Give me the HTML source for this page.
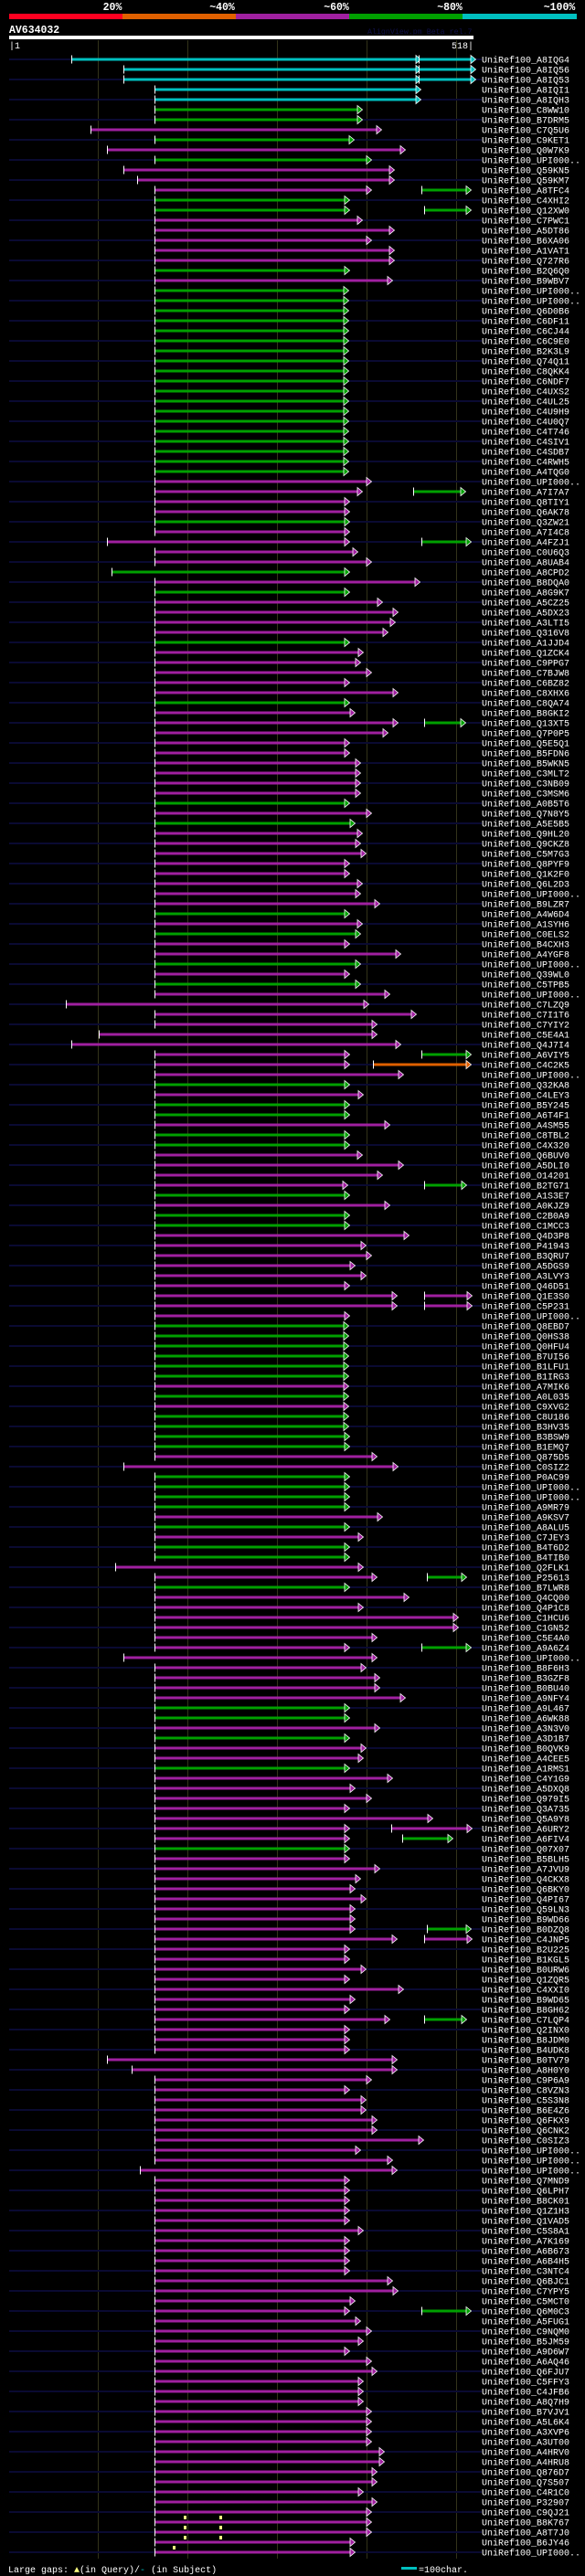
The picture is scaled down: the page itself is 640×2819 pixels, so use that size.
<!DOCTYPE html>
<html><head><meta charset="utf-8">
<style>
html,body{margin:0;padding:0;background:#000;}
svg{display:block;}
text{font-family:"Liberation Mono",monospace;}
</style></head>
<body>
<svg id="chart" xmlns="http://www.w3.org/2000/svg" width="640" height="2819" viewBox="0 0 640 2819">
<rect x="0" y="0" width="640" height="2819" fill="#000"/>
<g>
<rect x="10" y="15" width="124" height="6" fill="#ff0020"/>
<rect x="134" y="15" width="124" height="6" fill="#e06000"/>
<rect x="258" y="15" width="124" height="6" fill="#a020a0"/>
<rect x="382" y="15" width="124" height="6" fill="#00a000"/>
<rect x="506" y="15" width="125" height="6" fill="#00c0c0"/>
<g font-size="11.5" font-weight="bold" fill="#fff" text-anchor="middle">
<text x="123" y="11">20%</text>
<text x="243" y="11">~40%</text>
<text x="368" y="11">~60%</text>
<text x="492" y="11">~80%</text>
<text x="612" y="11">~100%</text>
</g></g>
<text x="10" y="36" font-size="11.5" font-weight="bold" fill="#fff">AV634032</text>
<text x="402" y="37" font-size="8.3" fill="#10104a">AlignView.pm Beta rel.7</text>
<rect x="10" y="39" width="508" height="4" fill="#fff"/>
<text x="10" y="53" font-size="10" fill="#fff">|1</text>
<text x="518" y="53" font-size="10" fill="#fff" text-anchor="end">518|</text>
<g id="grid"></g>
<g id="rows"></g>
<g>
<text x="9" y="2815" font-size="10" fill="#fff">Large gaps: <tspan fill="#ffff80">▲</tspan>(in Query)/<tspan fill="#00c0c0">-</tspan> (in Subject)</text>
<rect x="439" y="2809" width="17" height="3" fill="#00c0c0"/>
<text x="458" y="2815" font-size="10" fill="#fff">=100char.</text>
</g>
</svg>
<script>
const names = ["A8IQG4","A8IQ56","A8IQ53","A8IQI1","A8IQH3","C8WW10","B7DRM5","C7Q5U6","C9KET1","Q0W7K9",
"UPI000..","Q59KN5","Q59KM7","A8TFC4","C4XHI2","Q12XW0","C7PWC1","A5DT86","B6XA06","A1VAT1",
"Q727R6","B2Q6Q0","B9WBV7","UPI000..","UPI000..","Q6D0B6","C6DF11","C6CJ44","C6C9E0","B2K3L9",
"Q74Q11","C8QKK4","C6NDF7","C4UXS2","C4UL25","C4U9H9","C4U0Q7","C4T746","C4SIV1","C4SDB7",
"C4RWH5","A4TQG0","UPI000..","A7I7A7","Q8TIY1","Q6AK78","Q3ZW21","A7I4C8","A4FZJ1","C0U6Q3",
"A8UAB4","A8CPD2","B8DQA0","A8G9K7","A5CZ25","A5DX23","A3LTI5","Q316V8","A1JJD4","Q1ZCK4",
"C9PPG7","C7BJW8","C6BZ82","C8XHX6","C8QA74","B8GKI2","Q13XT5","Q7P0P5","Q5E5Q1","B5FDN6",
"B5WKN5","C3MLT2","C3NB09","C3MSM6","A0B5T6","Q7N8Y5","A5E5B5","Q9HL20","Q9CKZ8","C5M7G3",
"Q8PYF9","Q1K2F0","Q6L2D3","UPI000..","B9LZR7","A4W6D4","A1SYH6","C0ELS2","B4CXH3","A4YGF8",
"UPI000..","Q39WL0","C5TPB5","UPI000..","C7LZQ9","C7I1T6","C7YIY2","C5E4A1","Q4J7I4","A6VIY5",
"C4C2K5","UPI000..","Q32KA8","C4LEY3","B5Y245","A6T4F1","A4SM55","C8TBL2","C4X320","Q6BUV0",
"A5DLI0","O14201","B2TG71","A1S3E7","A0KJZ9","C2B0A9","C1MCC3","Q4D3P8","P41943","B3QRU7",
"A5DGS9","A3LVY3","Q46D51","Q1E3S0","C5P231","UPI000..","Q8EBD7","Q0HS38","Q0HFU4","B7UI56",
"B1LFU1","B1IRG3","A7MIK6","A0L035","C9XVG2","C8U186","B3HV35","B3BSW9","B1EMQ7","Q875D5",
"C0SIZ2","P0AC99","UPI000..","UPI000..","A9MR79","A9KSV7","A8ALU5","C7JEY3","B4T6D2","B4TIB0",
"Q2FLK1","P25613","B7LWR8","Q4CQ00","Q4P1C8","C1HCU6","C1GN52","C5E4A0","A9A6Z4","UPI000..",
"B8F6H3","B3GZF8","B0BU40","A9NFY4","A9L467","A6WK88","A3N3V0","A3D1B7","B0QVK9","A4CEE5",
"A1RMS1","C4Y1G9","A5DXQ8","Q979I5","Q3A735","Q5A9Y8","A6URY2","A6FIV4","Q07X07","B5BLH5",
"A7JVU9","Q4CKX8","Q6BKY0","Q4PI67","Q59LN3","B9WD66","B0DZQ8","C4JNP5","B2U225","B1KGL5",
"B0URW6","Q1ZQR5","C4XXI0","B9WD65","B8GH62","C7LQP4","Q2INX0","B8JDM0","B4UDK8","B0TV79",
"A8H0Y0","C9P6A9","C8VZN3","C5S3N8","B6E4Z6","Q6FKX9","Q6CNK2","C0SIZ3","UPI000..","UPI000..",
"UPI000..","Q7MND9","Q6LPH7","B8CK01","Q1Z1H3","Q1VAD5","C5S8A1","A7K169","A6B673","A6B4H5",
"C3NTC4","Q6BJC1","C7YPY5","C5MCT0","Q6M0C3","A5FUG1","C9NQM0","B5JM59","A9D6W7","A6AQ46",
"Q6FJU7","C5FFY3","C4JFB6","A8Q7H9","B7VJV1","A5L6K4","A3XVP6","A3UT00","A4HRV0","A4HRU8",
"Q876D7","Q7S507","C4R1C0","P32907","C9QJ21","B8K767","A8T7J0","B6JY46","UPI000.."];
const colorKeys = ("cccccggmgm"+"gmmmggmmmm"+"mgmggggggg"+"gggggggggg"+"ggmmmmgmmm"+"mgmgmmmmgm"+"mmmmgmmmmm"+"mmmmgmgmmm"+"mmmmmgmgmm"+"gmgmmmmmmm"+"mmgmggmggm"+"mmmgmggmmm"+"mmmmmmgggg"+"ggmgmggggm"+"mggggmgmgg"+"mmgmmmmmmm"+"mmmmggmgmm"+"gmmmmmmmgm"+"mmmmmmmmmmmmmmmmmmmmmmmmmmmmmmmmmmmmmmmmmmmmmmmmmmmmmmmmmmmmmmmmmmmmm").split("");
const alignStarts = [69,126,126,160,160,160,160,90,160,108,
160,126,141,160,160,160,160,160,160,160,
160,160,160,160,160,160,160,160,160,160,
160,160,160,160,160,160,160,160,160,160,
160,160,160,160,160,160,160,160,108,160,
160,113,160,160,160,160,160,160,160,160,
160,160,160,160,160,160,160,160,160,160,
160,160,160,160,160,160,160,160,160,160,
160,160,160,160,160,160,160,160,160,160,
160,160,160,160,63,160,160,99,69,160,
160,160,160,160,160,160,160,160,160,160,
160,160,160,160,160,160,160,160,160,160,
160,160,160,160,160,160,160,160,160,160,
160,160,160,160,160,160,160,160,160,160,
126,160,160,160,160,160,160,160,160,160,
117,160,160,160,160,160,160,160,160,126,
160,160,160,160,160,160,160,160,160,160,
160,160,160,160,160,160,160,160,160,160,
160,160,160,160,160,160,160,160,160,160,
160,160,160,160,160,160,160,160,160,108,
135,160,160,160,160,160,160,160,160,160,
144,160,160,160,160,160,160,160,160,160,
160,160,160,160,160,160,160,160,160,160,
160,160,160,160,160,160,160,160,160,160,
160,160,160,160,160,160,160,160,160];
const alignEnds = [446,446,446,446,446,382,382,403,373,429,
392,417,417,392,368,368,382,417,392,417,
417,368,415,367,367,367,367,367,367,367,
367,367,367,367,367,367,367,367,367,367,
367,367,392,382,368,368,368,368,368,377,
392,368,445,368,404,421,418,410,368,383,
380,392,368,421,368,374,421,410,368,368,
380,380,380,380,368,392,374,382,380,386,
368,368,382,380,401,368,382,380,368,424,
380,368,380,412,389,441,398,398,424,368,
368,427,368,383,368,368,412,368,368,382,
427,404,366,368,412,368,368,433,386,392,
374,386,368,420,420,368,367,367,367,367,
367,367,367,367,367,367,367,368,368,398,
421,368,368,368,368,404,368,383,368,368,
383,398,368,433,383,487,487,398,368,398,
386,401,401,429,368,368,401,368,386,383,
368,415,374,392,368,459,368,368,368,368,
401,380,374,386,374,374,374,420,368,368,
386,368,427,374,368,412,368,368,368,420,
420,392,368,386,386,398,398,449,380,415,
420,368,368,368,368,368,383,368,368,368,
368,415,421,374,368,380,392,383,368,392,
398,383,383,383,392,392,392,392,406,406,
398,398,383,398,392,392,392,374,374];
const extraRows = [0,1,2,13,15,43,48,66,99,100,112,123,124,151,158,176,177,186,187,195,224];
const extraStarts = [449,449,449,452,455,443,452,455,452,399,455,455,455,458,452,419,431,458,455,455,452];
const extraEnds = [506,506,506,501,501,495,501,495,501,501,496,502,502,496,501,502,481,501,502,496,501];
const extraColors = ["c","c","c","g","g","g","g","g","g","o","g","m","m","g","g","m","g","g","m","g","g"];
const gapRows = [244,244,245,245,246,246,247];
const gapPositions = [193,232,193,232,193,232,181];
const gridTicks = [98,196,294,392,490];

const PAL = {c:"#00c0c0", g:"#00a000", m:"#a020a0", o:"#e06000"};
const NS = "http://www.w3.org/2000/svg";
const xScale = v => 9 + v;
const yScale = i => 65 + 11 * i;
function mk(tag, attrs, parent){
  const e = document.createElementNS(NS, tag);
  for (const k in attrs) e.setAttribute(k, attrs[k]);
  parent.appendChild(e);
  return e;
}
const grid = document.getElementById("grid");
gridTicks.forEach(t => {
  const l = mk("rect", {x: xScale(t), y: 44, width: 1, height: 2756, fill: "#33331a"}, grid);
  
  
});
const rowsG = document.getElementById("rows");
function arrowSeg(g, s, e, y, col, tickStart){
  const x1 = xScale(s), x2 = xScale(e);
  const bar = mk("rect", {x: x1, y: y - 1.5, width: Math.max(0, x2 - x1), height: 3, fill: col}, g);
  
  
  if (tickStart) {
    const t = mk("rect", {x: x1, y: y - 4.5, width: 1, height: 9, fill: "#fff"}, g);
    
    
  }
  const a = mk("polygon", {points: `${x2},${y-4.5} ${x2+5.5},${y} ${x2},${y+4.5}`, fill: col, stroke: "#fff", "stroke-width": 0.8}, g);
  
  
}
names.forEach((n, i) => {
  const y = yScale(i);
  const g = mk("g", {}, rowsG);
  
  
  if (i % 2 === 0) {
    const st = mk("rect", {x: 10, y: y - 1, width: 517, height: 2, fill: "#0a0a32"}, g);
    
    
  }
  arrowSeg(g, alignStarts[i], alignEnds[i], y, PAL[colorKeys[i]], true);
  extraRows.forEach((r, k) => {
    if (r === i) arrowSeg(g, extraStarts[k], extraEnds[k], y, PAL[extraColors[k]], true);
  });
  gapRows.forEach((r, k) => {
    if (r === i) {
      const gx = xScale(gapPositions[k]);
      const gm = mk("rect", {x: gx - 1, y: y + 4, width: 3, height: 4, fill: "#ffff80"}, g);
      
      
    }
  });
  const t = mk("text", {x: 527, y: y + 3.5, "font-size": 10, fill: "#fff"}, g);
  t.textContent = "UniRef100_" + n;
  
  
});
</script>
</body></html>
